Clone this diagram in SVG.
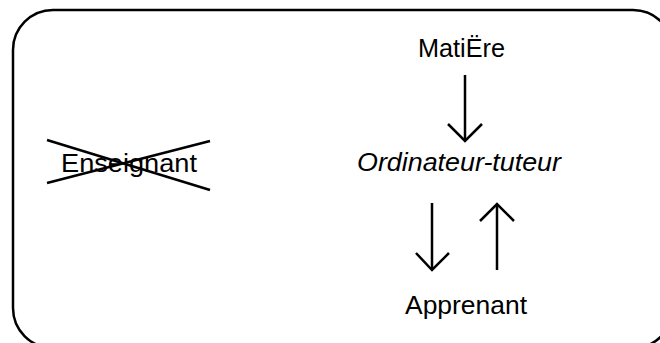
<svg xmlns="http://www.w3.org/2000/svg" width="660" height="343" viewBox="0 0 660 343">
<style>
.t{font-family:"Liberation Sans",Arial,Helvetica,sans-serif;font-size:25px;fill:#000;text-anchor:middle}
.i{font-style:italic}
.ln{stroke:#000;stroke-width:2.5;fill:none;stroke-linecap:butt}
.frame{stroke:#000;stroke-width:2.5;fill:#fff}
</style>
<rect class="frame" x="13" y="10" width="660" height="338" rx="40" ry="40"/>
<g id="enseignant">
<text class="t" x="129" y="171.5" textLength="136" lengthAdjust="spacingAndGlyphs">Enseignant</text>
<line class="ln" x1="47" y1="140" x2="210" y2="190"/>
<line class="ln" x1="47" y1="183" x2="210" y2="141"/>
</g>
<g id="matiere">
<text class="t" x="461.5" y="57" textLength="87" lengthAdjust="spacingAndGlyphs">MatiËre</text>
</g>
<g id="ordinateur">
<text class="t i" x="459" y="171" textLength="204" lengthAdjust="spacingAndGlyphs">Ordinateur-tuteur</text>
</g>
<g id="apprenant">
<text class="t" x="466" y="314" textLength="122" lengthAdjust="spacingAndGlyphs">Apprenant</text>
</g>
<g id="connectors">
<line class="ln" x1="465" y1="75" x2="465" y2="140"/>
<polyline class="ln" points="448,124 465,141 482,124"/>
<line class="ln" x1="432" y1="203" x2="432" y2="270"/>
<polyline class="ln" points="416,253 432,270 449,253"/>
<line class="ln" x1="497" y1="204" x2="497" y2="270"/>
<polyline class="ln" points="480,221 497,204 514,221"/>
</g>
</svg>
